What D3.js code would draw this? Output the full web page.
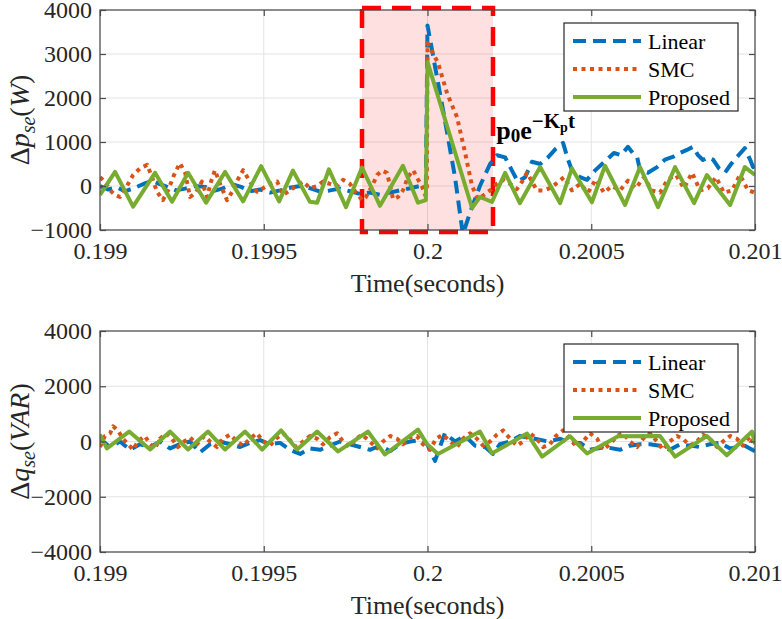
<!DOCTYPE html>
<html><head><meta charset="utf-8">
<script src="https://cdn.jsdelivr.net/npm/d3@7"></script>
<style>
body{margin:0;background:#fff}
svg{display:block}
svg text{font-family:"Liberation Serif","DejaVu Serif","Times New Roman",serif !important;}
</style>
</head><body>
<svg id="chart" width="782" height="619"></svg>
<script>
// ---------- data ----------
const xTicks = [0.199, 0.1995, 0.2, 0.2005, 0.201];
const xTickLabels = ["0.199", "0.1995", "0.2", "0.2005", "0.201"];
const pTicks = [-1000, 0, 1000, 2000, 3000, 4000];
const qTicks = [-4000, -2000, 0, 2000, 4000];
const seriesNames = ["Linear", "SMC", "Proposed"];
const highlightWindow = [0.1998, 0.2002];

// top panel: active power deviation
const pLinearT = [0.199000,0.199024,0.199052,0.199076,0.199107,0.199137,0.199159,0.199183,0.199208,0.199232,0.199260,0.199290,0.199321,0.199348,0.199373,0.199403,0.199431,0.199458,0.199489,0.199519,0.199550,0.199580,0.199611,0.199641,0.199672,0.199702,0.199733,0.199763,0.199794,0.199824,0.199855,0.199885,0.199916,0.199947,0.199977,0.199995,0.200000,0.200053,0.200084,0.200108,0.200130,0.200160,0.200191,0.200212,0.200237,0.200258,0.200276,0.200298,0.200319,0.200344,0.200368,0.200392,0.200414,0.200429,0.200444,0.200466,0.200487,0.200511,0.200533,0.200548,0.200569,0.200591,0.200612,0.200627,0.200640,0.200649,0.200673,0.200701,0.200725,0.200749,0.200771,0.200792,0.200811,0.200826,0.200841,0.200856,0.200872,0.200890,0.200908,0.200927,0.200945,0.200969,0.200985,0.200994,0.201000];
const pLinearV = [0,-80,-30,-120,-40,60,120,40,-30,-100,-60,0,-20,-110,-60,40,-20,-120,-80,-150,-100,-40,0,-50,-130,-100,-60,-120,-180,-150,-200,-150,-100,-50,0,-30,3650,1500,200,-1100,-600,0,500,700,650,350,100,200,550,500,650,850,980,600,300,200,140,350,500,600,750,700,890,750,660,360,300,430,600,660,750,820,890,700,590,650,600,400,300,500,660,860,600,430,520];

const pSmcT = [0.199000,0.199015,0.199031,0.199046,0.199061,0.199082,0.199101,0.199122,0.199144,0.199159,0.199174,0.199192,0.199208,0.199226,0.199244,0.199260,0.199275,0.199293,0.199311,0.199327,0.199339,0.199351,0.199369,0.199388,0.199406,0.199421,0.199437,0.199458,0.199479,0.199498,0.199519,0.199541,0.199559,0.199580,0.199599,0.199620,0.199641,0.199663,0.199681,0.199702,0.199724,0.199742,0.199763,0.199782,0.199800,0.199812,0.199824,0.199837,0.199846,0.199861,0.199876,0.199886,0.199895,0.199910,0.199925,0.199940,0.199956,0.199971,0.199983,0.199992,0.199998,0.200000,0.200032,0.200060,0.200090,0.200115,0.200136,0.200154,0.200173,0.200191,0.200212,0.200231,0.200252,0.200273,0.200289,0.200304,0.200319,0.200334,0.200353,0.200374,0.200392,0.200417,0.200441,0.200466,0.200490,0.200514,0.200539,0.200563,0.200588,0.200612,0.200636,0.200661,0.200685,0.200710,0.200734,0.200759,0.200783,0.200808,0.200832,0.200856,0.200881,0.200905,0.200930,0.200954,0.200979,0.201000];
const pSmcV = [200,100,-100,-200,-250,0,250,400,480,200,-130,-320,-100,250,520,300,-250,-150,100,-250,100,360,0,-320,-100,150,360,100,-130,-50,50,100,-200,-100,0,100,-50,0,100,50,0,140,50,-150,-320,-250,-90,100,250,350,300,0,-300,-250,-100,200,360,150,0,-200,-150,3250,2800,2100,1570,750,0,-300,-200,-100,50,140,50,-70,100,300,100,-100,-100,-50,50,200,-100,50,-150,150,-150,0,-100,120,-50,200,-100,-150,150,250,-50,300,-100,-50,200,-150,-100,250,-100,-150];

const pPropT = [0.199000,0.199046,0.199101,0.199168,0.199220,0.199269,0.199324,0.199382,0.199437,0.199492,0.199547,0.199589,0.199641,0.199663,0.199699,0.199751,0.199800,0.199855,0.199925,0.199971,0.199995,0.200000,0.200136,0.200160,0.200197,0.200237,0.200282,0.200344,0.200405,0.200441,0.200502,0.200542,0.200603,0.200649,0.200704,0.200756,0.200814,0.200853,0.200924,0.200969,0.201000];
const pPropV = [-200,320,-470,300,-360,300,-380,320,-350,450,-350,350,-360,-380,380,-480,420,-450,460,-380,-320,2820,-500,-250,-360,300,-390,430,-390,400,-370,460,-430,430,-480,430,-390,250,-430,430,250];

// bottom panel: reactive power deviation
const qLinearT = [0.199000,0.199031,0.199061,0.199092,0.199122,0.199153,0.199183,0.199214,0.199244,0.199275,0.199305,0.199336,0.199366,0.199397,0.199428,0.199458,0.199489,0.199519,0.199550,0.199580,0.199611,0.199641,0.199672,0.199702,0.199733,0.199763,0.199794,0.199824,0.199855,0.199886,0.199916,0.199947,0.199977,0.199999,0.200023,0.200053,0.200084,0.200115,0.200145,0.200176,0.200200,0.200221,0.200252,0.200282,0.200328,0.200368,0.200405,0.200435,0.200466,0.200496,0.200542,0.200588,0.200618,0.200649,0.200679,0.200710,0.200740,0.200771,0.200801,0.200832,0.200862,0.200893,0.200924,0.200969,0.201000];
const qLinearV = [100,-200,0,-300,-100,-200,0,-250,-100,0,-400,-100,0,-100,-200,-50,50,-100,-50,-300,-450,-250,-300,-150,0,-100,-200,-300,-150,-350,-100,0,50,-100,-700,300,0,200,-150,-200,-450,-100,0,200,100,0,100,-50,-50,-300,-200,-300,-150,-100,-100,-150,-300,-100,-150,-200,-100,-50,-250,-150,-350];

const qSmcT = [0.199000,0.199015,0.199031,0.199040,0.199055,0.199070,0.199086,0.199101,0.199116,0.199137,0.199153,0.199168,0.199183,0.199202,0.199220,0.199238,0.199257,0.199275,0.199296,0.199318,0.199336,0.199357,0.199376,0.199397,0.199418,0.199437,0.199458,0.199479,0.199498,0.199519,0.199537,0.199559,0.199580,0.199599,0.199620,0.199641,0.199663,0.199681,0.199702,0.199724,0.199742,0.199763,0.199782,0.199800,0.199824,0.199846,0.199864,0.199886,0.199907,0.199925,0.199947,0.199968,0.199986,0.200008,0.200026,0.200047,0.200069,0.200090,0.200108,0.200130,0.200151,0.200170,0.200191,0.200212,0.200231,0.200252,0.200273,0.200292,0.200313,0.200334,0.200353,0.200374,0.200392,0.200414,0.200435,0.200456,0.200475,0.200496,0.200518,0.200536,0.200557,0.200579,0.200597,0.200618,0.200640,0.200658,0.200679,0.200701,0.200719,0.200740,0.200762,0.200780,0.200801,0.200823,0.200841,0.200862,0.200884,0.200902,0.200924,0.200945,0.200963,0.200985,0.201000];
const qSmcV = [-200,200,300,550,400,100,-100,-300,0,200,-100,-250,100,300,100,-200,0,150,-100,200,0,-200,100,250,0,-150,100,300,0,-150,100,300,50,-200,0,200,100,-100,150,300,0,-200,100,250,0,-250,0,200,100,-100,150,200,-100,-300,100,250,0,-200,100,300,100,-150,0,250,400,100,-150,0,300,100,-200,-100,200,400,100,-200,0,300,100,-300,-100,200,300,0,-200,100,300,0,-300,0,200,100,-150,0,250,100,-200,0,200,100,-150,200,-200];

const qPropT = [0.199000,0.199021,0.199089,0.199153,0.199214,0.199269,0.199330,0.199382,0.199443,0.199495,0.199553,0.199602,0.199663,0.199727,0.199818,0.199870,0.199971,0.199999,0.200032,0.200160,0.200197,0.200304,0.200350,0.200435,0.200487,0.200582,0.200710,0.200756,0.200853,0.200914,0.200991,0.201000];
const qPropV = [250,-250,360,-290,360,-290,360,-290,360,-290,400,-290,360,-360,360,-470,430,-100,-450,360,-430,290,-550,190,-430,190,200,-550,200,-500,360,-100];

// ---------- drawing ----------
const svg = d3.select("#chart");
const colors = {Linear: "#0072BD", SMC: "#D95319", Proposed: "#77AC30"};
const dashes = {Linear: "13,7", SMC: "4,4.5", Proposed: null};
const widths = {Linear: 4, SMC: 4, Proposed: 4};
const serif = "Liberation Serif";
const axisColor = "#4a4a4a";
const xLeft = 100, xRight = 755;
const x = d3.scaleLinear().domain([0.199, 0.201]).range([xLeft, xRight]);

function pairs(T, V) { return T.map((t, i) => [t, V[i]]); }

function panel(opts) {
  const y = d3.scaleLinear().domain(opts.domain).range([opts.bottom, opts.top]);
  const g = svg.append("g");
  const clipId = "clip" + opts.id;
  svg.append("clipPath").attr("id", clipId).append("rect")
    .attr("x", xLeft).attr("y", opts.top).attr("width", xRight - xLeft).attr("height", opts.bottom - opts.top);

  // grid
  g.append("g").selectAll("line").data(xTicks).join("line")
    .attr("x1", d => x(d)).attr("x2", d => x(d)).attr("y1", opts.top).attr("y2", opts.bottom)
    .attr("stroke", "#e3e3e3").attr("stroke-width", 1);
  g.append("g").selectAll("line").data(opts.ticks).join("line")
    .attr("x1", xLeft).attr("x2", xRight).attr("y1", d => y(d)).attr("y2", d => y(d))
    .attr("stroke", "#e3e3e3").attr("stroke-width", 1);

  if (opts.highlight) {
    const hx0 = x(highlightWindow[0]), hx1 = x(highlightWindow[1]);
    g.append("rect").attr("x", hx0).attr("y", opts.top).attr("width", hx1 - hx0).attr("height", opts.bottom - opts.top)
      .attr("fill", "rgba(255,0,0,0.12)");
    g.append("rect").attr("x", hx0).attr("y", opts.top - 2).attr("width", hx1 - hx0).attr("height", opts.bottom - opts.top + 4)
      .attr("fill", "none").attr("stroke", "#ff0000").attr("stroke-width", 4.5).attr("stroke-dasharray", "19,11");
  }

  // lines
  const line = d3.line().x(d => x(d[0])).y(d => y(d[1]));
  const lg = g.append("g").attr("clip-path", `url(#${clipId})`);
  opts.series.forEach(s => {
    lg.append("path").datum(pairs(s.T, s.V)).attr("d", line)
      .attr("fill", "none").attr("stroke", colors[s.name]).attr("stroke-width", widths[s.name])
      .attr("stroke-dasharray", dashes[s.name]).attr("stroke-linejoin", "round");
  });

  // box
  g.append("rect").attr("x", xLeft).attr("y", opts.top).attr("width", xRight - xLeft).attr("height", opts.bottom - opts.top)
    .attr("fill", "none").attr("stroke", axisColor).attr("stroke-width", 1.2);

  // axes via d3 axis (ticks inside)
  const ax = g.append("g").attr("transform", `translate(0,${opts.bottom})`)
    .call(d3.axisBottom(x).tickValues(xTicks).tickFormat((d, i) => xTickLabels[i]).tickSizeInner(-6).tickSizeOuter(0).tickPadding(12));
  const axTop = g.append("g").attr("transform", `translate(0,${opts.top})`)
    .call(d3.axisTop(x).tickValues(xTicks).tickFormat("").tickSizeInner(-6).tickSizeOuter(0));
  const ay = g.append("g").attr("transform", `translate(${xLeft},0)`)
    .call(d3.axisLeft(y).tickValues(opts.ticks).tickFormat(d3.format("d")).tickSizeInner(-6).tickSizeOuter(0).tickPadding(8));
  const ayR = g.append("g").attr("transform", `translate(${xRight},0)`)
    .call(d3.axisRight(y).tickValues(opts.ticks).tickFormat("").tickSizeInner(-6).tickSizeOuter(0));
  [ax, axTop, ay, ayR].forEach(a => {
    a.attr("font-family", serif);
    a.select(".domain").remove();
    a.selectAll(".tick line").attr("stroke", axisColor).attr("stroke-width", 1.2);
    a.selectAll("text").attr("font-family", serif).attr("font-size", 24).attr("fill", "#262626");
  });
  ax.selectAll("text").attr("dy", "0.71em");

  // x label
  g.append("text").attr("x", (xLeft + xRight) / 2).attr("y", opts.bottom + 62).attr("text-anchor", "middle")
    .attr("font-family", serif).attr("font-size", 26).attr("fill", "#262626").text("Time(seconds)");

  // y label
  const yl = g.append("text").attr("transform", `translate(29,${(opts.top + opts.bottom) / 2}) rotate(-90)`)
    .attr("text-anchor", "middle").attr("font-family", serif).attr("font-size", 28).attr("fill", "#262626");
  yl.append("tspan").text("Δ");
  yl.append("tspan").attr("font-style", "italic").text(opts.sym);
  yl.append("tspan").attr("font-style", "italic").attr("font-size", 20).attr("dy", 6).text("se");
  yl.append("tspan").attr("dy", -6).text("(");
  yl.append("tspan").attr("font-style", "italic").text(opts.unit);
  yl.append("tspan").text(")");

  // legend
  const L = opts.legend;
  const leg = g.append("g");
  leg.append("rect").attr("x", L.x).attr("y", L.y).attr("width", 174).attr("height", 88)
    .attr("fill", "#fff").attr("stroke", "#262626").attr("stroke-width", 1.2);
  seriesNames.forEach((n, i) => {
    const yy = L.y + 18 + i * 28;
    leg.append("line").attr("x1", L.x + 9).attr("x2", L.x + 77).attr("y1", yy).attr("y2", yy)
      .attr("stroke", colors[n]).attr("stroke-width", widths[n]).attr("stroke-dasharray", dashes[n]);
    leg.append("text").attr("x", L.x + 84).attr("y", yy).attr("dy", "0.35em")
      .attr("font-family", serif).attr("font-size", 22).attr("fill", "#000").text(n);
  });
  return y;
}

const yTop = panel({id: "p", top: 10, bottom: 230, domain: [-1000, 4000], ticks: pTicks, highlight: true,
  sym: "p", unit: "W", legend: {x: 564, y: 23},
  series: [{name: "Linear", T: pLinearT, V: pLinearV}, {name: "SMC", T: pSmcT, V: pSmcV}, {name: "Proposed", T: pPropT, V: pPropV}]});

panel({id: "q", top: 331, bottom: 552, domain: [-4000, 4000], ticks: qTicks, highlight: false,
  sym: "q", unit: "VAR", legend: {x: 564, y: 344},
  series: [{name: "Linear", T: qLinearT, V: qLinearV}, {name: "SMC", T: qSmcT, V: qSmcV}, {name: "Proposed", T: qPropT, V: qPropV}]});

// annotation p0 e^{-Kp t}
const ann = svg.append("text").attr("x", x(0.20021)).attr("y", 139)
  .attr("font-family", serif).attr("font-weight", "bold").attr("font-size", 26).attr("fill", "#000");
ann.append("tspan").text("p");
ann.append("tspan").attr("font-size", 19).attr("dy", 3).text("0");
ann.append("tspan").attr("dy", -3).text("e");
ann.append("tspan").attr("font-size", 21).attr("dy", -11).text("−K");
ann.append("tspan").attr("font-size", 14).attr("dy", 4).text("p");
ann.append("tspan").attr("font-size", 21).attr("dy", -4).text("t");
</script>
</body></html>
